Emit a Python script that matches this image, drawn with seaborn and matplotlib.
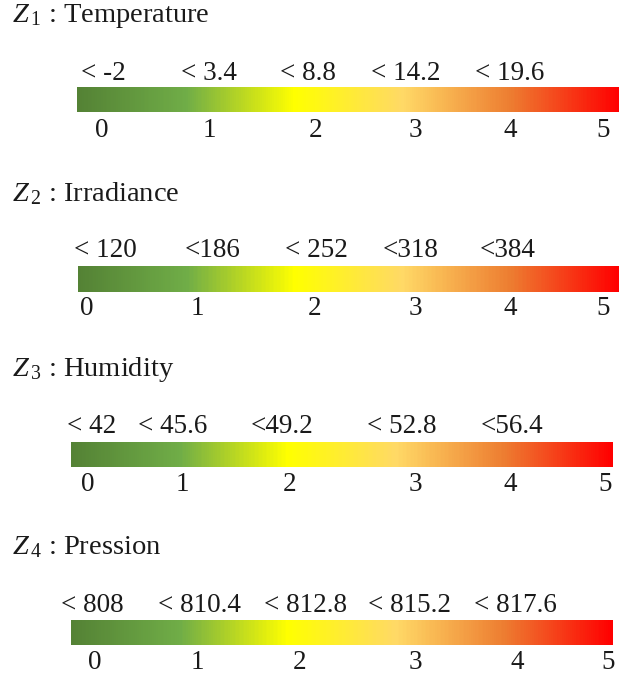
import numpy as np
import matplotlib.pyplot as plt
import seaborn as sns
from matplotlib.colors import LinearSegmentedColormap

# datos de las cuatro escalas
variables = ['Temperature', 'Irradiance', 'Humidity', 'Pression']
z_names = [r'$Z_{\,1}$', r'$Z_{\,2}$', r'$Z_{\,3}$', r'$Z_{\,4}$']
levels = ['0', '1', '2', '3', '4', '5']
temp_labels = ['< -2', '< 3.4', '< 8.8', '< 14.2', '< 19.6']
irr_labels = ['< 120', '<186', '< 252', '<318', '<384']
hum_labels = ['< 42', '< 45.6', '<49.2', '< 52.8', '<56.4']
pres_labels = ['< 808', '< 810.4', '< 812.8', '< 815.2', '< 817.6']
all_labels = [temp_labels, irr_labels, hum_labels, pres_labels]

# colores del degradado
stops = [0.0, 0.2, 0.4, 0.6, 0.8, 1.0]
stop_colors = ['#548235', '#70AD47', '#FFFF00', '#FFD966', '#ED7D31', '#FF0000']
cmap = LinearSegmentedColormap.from_list('semaforo', list(zip(stops, stop_colors)))

# posiciones en pixeles (layout)
W, H = 619, 680
bars = [(77, 87, 620, 112), (78, 266, 619, 292), (71, 442, 613, 467), (71, 620, 613, 645)]
title_y = [22, 201, 376, 554]
upper_y = [80, 257, 433, 612]
lower_y = [137, 315, 491, 669]
upper_x = [[103, 209, 308, 406, 510],
           [105, 213, 316, 411, 508],
           [92, 173, 282, 402, 512],
           [92, 199, 305, 410, 515]]
lower_x = [[102, 209, 316, 415, 510, 603],
           [87, 197, 315, 415, 510, 603],
           [88, 182, 290, 415, 510, 605],
           [95, 197, 300, 415, 517, 608]]

sns.set_theme(style='white')
plt.rcParams['font.family'] = ['Liberation Serif', 'DejaVu Serif']
plt.rcParams['mathtext.fontset'] = 'custom'
plt.rcParams['mathtext.rm'] = 'Liberation Serif'
plt.rcParams['mathtext.it'] = 'Liberation Serif:italic'

fig = plt.figure(figsize=(W / 100, H / 100), dpi=100)
txt_color = '#1a1a1a'
fs = 19.5

def fx(x):
    return x / W

def fy(y):
    return 1 - y / H

gradient = np.linspace(0, 1, 400).reshape(1, -1)

for i, var in enumerate(variables):
    x0, y0, x1, y1 = bars[i]
    ax = fig.add_axes([fx(x0), fy(y1), (x1 - x0) / W, (y1 - y0) / H])
    sns.heatmap(gradient, ax=ax, cmap=cmap, cbar=False,
                xticklabels=False, yticklabels=False, vmin=0, vmax=1)
    ax.set_xticks([])
    ax.set_yticks([])

    fig.text(fx(12), fy(title_y[i]), f'{z_names[i]} : {var}', fontsize=20.5,
             color=txt_color, ha='left', va='baseline')

    for lab, xp in zip(all_labels[i], upper_x[i]):
        fig.text(fx(xp), fy(upper_y[i]), lab, fontsize=fs, color=txt_color,
                 ha='center', va='baseline')

    for lev, xp in zip(levels, lower_x[i]):
        fig.text(fx(xp), fy(lower_y[i]), lev, fontsize=fs, color=txt_color,
                 ha='center', va='baseline')

fig.savefig('out.png', dpi=100)
